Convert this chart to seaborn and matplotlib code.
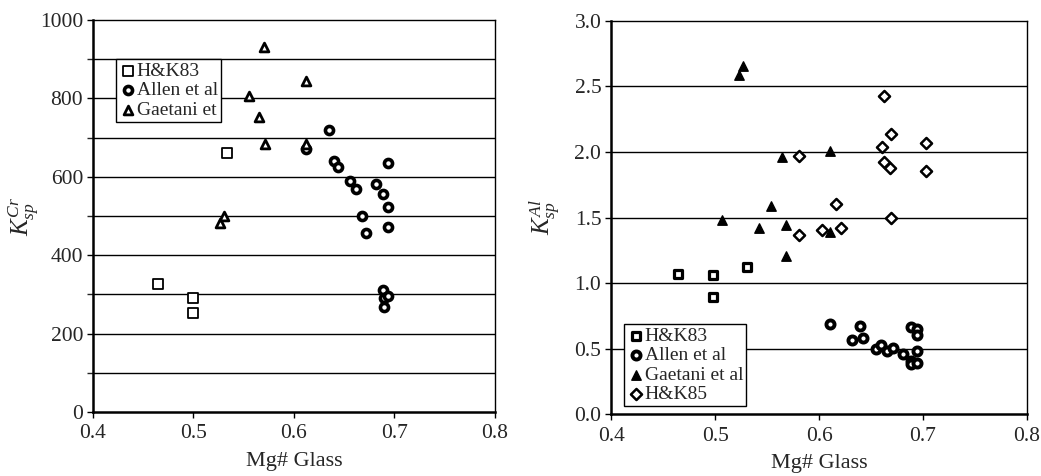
import numpy as np
import pandas as pd
import matplotlib
matplotlib.use("Agg")
import matplotlib.pyplot as plt
import seaborn as sns

# ---------------- data : left panel (K_sp^Cr) ----------------
cr_hk83_x = [0.465, 0.500, 0.500, 0.533]
cr_hk83_y = [326, 291, 252, 660]

cr_allen_x = [0.635, 0.612, 0.640, 0.644, 0.656, 0.662, 0.668, 0.672, 0.682,
              0.689, 0.694, 0.694, 0.694, 0.689, 0.690, 0.694, 0.690]
cr_allen_y = [720, 671, 641, 626, 590, 570, 500, 456, 582,
              556, 524, 635, 471, 312, 292, 295, 269]

cr_gaet_x = [0.570, 0.612, 0.555, 0.565, 0.571, 0.612, 0.526, 0.530]
cr_gaet_y = [932, 845, 806, 752, 684, 684, 483, 500]

# ---------------- data : right panel (K_sp^Al) ----------------
al_hk83_x = [0.464, 0.498, 0.498, 0.531]
al_hk83_y = [1.069, 1.059, 0.897, 1.125]

al_allen_x = [0.611, 0.639, 0.632, 0.642, 0.655, 0.660, 0.665, 0.671, 0.681,
              0.688, 0.694, 0.694, 0.694, 0.688, 0.688, 0.694]
al_allen_y = [0.688, 0.676, 0.566, 0.582, 0.500, 0.528, 0.478, 0.503, 0.460,
              0.663, 0.650, 0.605, 0.478, 0.409, 0.384, 0.389]

al_gaet_x = [0.523, 0.527, 0.507, 0.542, 0.554, 0.564, 0.568, 0.568, 0.611, 0.611]
al_gaet_y = [2.586, 2.654, 1.481, 1.417, 1.585, 1.963, 1.443, 1.206, 2.004, 1.387]

al_hk85_x = [0.581, 0.581, 0.603, 0.616, 0.621, 0.662, 0.661, 0.662, 0.669,
             0.668, 0.669, 0.703, 0.703]
al_hk85_y = [1.968, 1.369, 1.405, 1.603, 1.417, 2.428, 2.040, 1.920, 2.134,
             1.880, 1.496, 2.065, 1.857]

left_labels = ["H&K83", "Allen et al", "Gaetani et"]
right_labels = ["H&K83", "Allen et al", "Gaetani et al", "H&K85"]

x_ticks = [0.4, 0.5, 0.6, 0.7, 0.8]
cr_ticks = [0, 200, 400, 600, 800, 1000]
cr_grid = [100, 200, 300, 400, 500, 600, 700, 800, 900]
al_ticks = [0.0, 0.5, 1.0, 1.5, 2.0, 2.5, 3.0]

# ---------------- style ----------------
sns.set_style("white")
plt.rcParams["font.family"] = ["Liberation Serif", "DejaVu Serif"]
plt.rcParams["mathtext.fontset"] = "custom"
plt.rcParams["mathtext.it"] = "Liberation Serif:italic"
plt.rcParams["mathtext.rm"] = "Liberation Serif"

fig = plt.figure(figsize=(10.41, 4.76), dpi=100)
axL = fig.add_axes([0.0893, 0.1345, 0.3862, 0.8235])
axR = fig.add_axes([0.5870, 0.1300, 0.3996, 0.8260])


def draw(ax, xs, ys, label, marker, face, size, lw):
    df = pd.DataFrame({"x": xs, "y": ys})
    sns.scatterplot(data=df, x="x", y="y", ax=ax, marker=marker, s=size,
                    facecolor=face, edgecolor="black", linewidth=lw,
                    label=label, zorder=3)


# left panel
draw(axL, cr_hk83_x, cr_hk83_y, left_labels[0], "s", "white", 42, 1.3)
draw(axL, cr_allen_x, cr_allen_y, left_labels[1], "o", "white", 34, 2.6)
draw(axL, cr_gaet_x, cr_gaet_y, left_labels[2], "^", "white", 40, 2.0)

# right panel
draw(axR, al_hk83_x, al_hk83_y, right_labels[0], "s", "white", 34, 2.3)
draw(axR, al_allen_x, al_allen_y, right_labels[1], "o", "white", 34, 2.8)
draw(axR, al_gaet_x, al_gaet_y, right_labels[2], "^", "black", 46, 1.0)
draw(axR, al_hk85_x, al_hk85_y, right_labels[3], "D", "white", 32, 1.8)

for ax in (axL, axR):
    ax.set_xlim(0.4, 0.8)
    ax.set_xticks(x_ticks)
    ax.set_xticklabels([f"{v:.1f}" for v in x_ticks])
    ax.set_xlabel("Mg# Glass", fontsize=16, labelpad=6)
    for sp in ax.spines.values():
        sp.set_visible(True)
        sp.set_color("black")
        sp.set_linewidth(1.0)
    ax.spines["left"].set_linewidth(1.8)
    ax.spines["bottom"].set_linewidth(1.8)
    ax.tick_params(axis="both", direction="out", length=4, width=1.0,
                   labelsize=15.5, color="black", left=True, bottom=True)
    ax.tick_params(axis="x", pad=5)
    ax.tick_params(axis="y", pad=3)
    ax.grid(False)

axL.set_ylim(0, 1000)
axL.set_yticks(cr_ticks)
axL.set_yticklabels([str(v) for v in cr_ticks])
axL.set_yticks(cr_grid, minor=True)
axL.tick_params(axis="y", which="minor", direction="out", length=4, width=1.0, left=True)
for g in cr_grid:
    axL.axhline(g, color="black", lw=1.0, zorder=1)
axL.set_ylabel(r"$K_{sp}^{Cr}$", fontsize=18)
axL.yaxis.set_label_coords(-0.13, 0.5)

axR.set_ylim(0, 3.0)
axR.set_yticks(al_ticks)
axR.set_yticklabels([f"{v:.1f}" for v in al_ticks])
for g in al_ticks[1:-1]:
    axR.axhline(g, color="black", lw=1.0, zorder=1)
axR.set_ylabel(r"$K_{sp}^{Al}$", fontsize=18)
axR.yaxis.set_label_coords(-0.118, 0.5)

legL = axL.legend(loc="upper left", bbox_to_anchor=(0.058, 0.90), fontsize=14,
                  frameon=True, fancybox=False, edgecolor="black", framealpha=1,
                  borderpad=0.15, handletextpad=0.0, handlelength=0.9,
                  labelspacing=0.1, borderaxespad=0.0)
legL.get_frame().set_linewidth(1.0)

legR = axR.legend(loc="lower left", bbox_to_anchor=(0.032, 0.02), fontsize=14,
                  frameon=True, fancybox=False, edgecolor="black", framealpha=1,
                  borderpad=0.15, handletextpad=0.0, handlelength=0.9,
                  labelspacing=0.1, borderaxespad=0.0)
legR.get_frame().set_linewidth(1.0)

fig.savefig("out.png", dpi=100)
